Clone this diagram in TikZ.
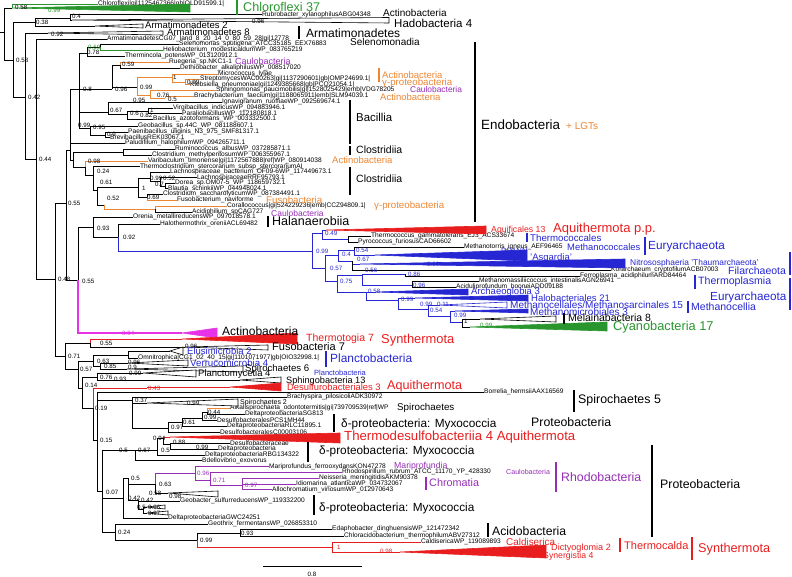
\documentclass[tikz,border=0pt]{standalone}
\usepackage{fontspec}
\setmainfont{Liberation Sans}
\definecolor{cRed}{RGB}{232,30,30}
\definecolor{cBlue}{RGB}{38,38,210}
\definecolor{cGreen}{RGB}{40,150,45}
\definecolor{cOrange}{RGB}{236,134,50}
\definecolor{cPurple}{RGB}{150,45,180}
\definecolor{cMag}{RGB}{232,50,232}
\tikzset{
  br/.style={line width=0.8pt},
  lf/.style={font=\fontsize{6.6}{7}\selectfont,anchor=west,inner sep=0pt},
  bs/.style={font=\fontsize{6.2}{7}\selectfont,anchor=west,inner sep=0pt},
  grp/.style={font=\fontsize{#1}{#1}\selectfont,anchor=west,inner sep=0pt},
  bar/.style={line width=1.4pt},
  tri/.style={line width=0.6pt}
}
\newcommand\clade[5]{\filldraw[tri,#5] (#1) -- (#2,#3) -- (#2,#4) -- cycle;}

\begin{document}
\begin{tikzpicture}[x=1pt,y=-1pt]
\useasboundingbox (0,0) rectangle (792,577);

% leaves
\foreach \n/\x/\y/\t in {chlx/98/4/Chloroflexi|gi|1125467366|gb|OLD91599.1|,
  rub/262/14.5/Rubrobacter_xylanophilusABG04348,
  cg07/107/39/ArmatimonadetesCG07_land_8_20_14_0_80_59_28|gi|12778,
  sel/179/44/Selenomonas_sputigena_ATCC35185_EEX76883,
  hel/163/50/Heliobacterium_modesticaldumWP_083765219,
  thm/125/56/Thermincola_potensWP_013120912.1,
  rue/169/62/Ruegeria_sp.NKC1-1,
  det/180/68/Dethiobacter_alkaliphilusWP_008517020,
  mic/218/74/Micrococcus_lylae,
  str/200/79/StreptomycesWAC00263|gi|1137290601|gb|OMP24699.1|,
  kle/190/84.5/Klebsiella_pneumoniae|gi|1249385668|gb|PCQ21054.1|,
  sph/216/90/Sphingomonas_paucimobilis|gi|1528025429|emb|VDG78205,
  bra/194/96/Brachybacterium_faecium|gi|1188065911|emb|SLM94039.1,
  ign/222/102/Ignavigranum_ruoffiaeWP_092569674.1,
  vir/173/108/Virgibacillus_indicusWP_094883946.1,
  par/182/113.5/ParaliobacillusWP_112180818.1,
  bac/153/119/Bacillus_azotoformans_WP_003332500.1,
  geo/138/126/Geobacillus_sp.44C_WP_081188607.1,
  pae/128/132/Paenibacillus_uliginis_N3_975_SMF81317.1,
  bre/110/137.5/BrevibacillusREK03067.1,
  pal/125/143/Paludifilum_halophilumWP_094265711.1,
  rum/175/149/Ruminococcus_albusWP_037285871.1,
  clm/152/155/Clostridium_methylpentosumWP_006355967.1,
  var/148/161/Varibaculum_timonense|gi|1172567888|ref|WP_080914038,
  thc/140/166.5/Thermoclostridium_stercorarium_subsp_stercorariumAI,
  lab/170/172/Lachnospiraceae_bacterium_OF09-6WP_117449673.1,
  lar/197/177.5/LachnospiraceaeRRF95793.1,
  dor/175/183/Dorea_sp.OM07-5_WP_118659732.1,
  bla/168/188.5/Blautia_schinkiiWP_044948024.1,
  cls/163/194/Clostridium_saccharolyticumWP_087384491.1,
  fus/177/200/Fusobacterium_naviforme,
  cor/227/206/Corallococcus|gi|524229236|emb|CCZ94809.1|,
  aci/192/212/Acidiphilium_spCAG727,
  ore/133/217/Orenia_metallireducensWP_097018578.1,
  hal/160/224/Halothermothrix_oreniiACL69482,
  thg/371/236/Thermococcus_gammatolerans_EJ3_ACS33674,
  pyr/358/242/Pyrococcus_furiosusCAD66602,
  mth/464/247/Methanotorris_igneus_AEF96465,
  kor/611/270/Korarchaeum_cryptofilumACB07003,
  fer/580/276/Ferroplasma_acidiphilumARD84464,
  mms/479/281/Methanomassiliicoccus_intestinalisAGN26941,
  acd/456/287/Aciduliprofundum_booneiADD09188,
  omn/138/358/Omnitrophica|CG1_02_40_15|gi|1101071977|gb|OIO32998.1|,
  bor/484/392/Borrelia_hermsiiAAX16569,
  bsp/287/397/Brachyspira_pilosicoliADK30972,
  alk/230/408/Alkalispirochaeta_odontotermitis|gi|739709539|ref|WP,
  sg8/245/414/DeltaproteobacteriaSG813,
  pcs/217/420/DesulfobacteralesPCS1MH44,
  rlc/227/426/DeltaproteobacteriaRLC11895.1,
  c03/220/432/DesulfobacteralesC00003106,
  dsb/230/443/Desulfobacteraceae,
  dlt/218/449/Deltaproteobacteria,
  rbg/205/455/DeltaproteobacteriaRBG134322,
  bde/202/460.5/Bdellovibrio_exovorus,
  mar/269/466.5/Mariprofundus_ferrooxydansKON47278,
  rho/342/472/Rhodospirillum_rubrum_ATCC_11170_YP_428330,
  nei/319/478/Neisseria_meningitidisAKM90378,
  idi/296/484/Idiomarina_atlanticaWP_034732067,
  all/272/489.5/Allochromatium_vinosumWP_012970643,
  gsu/180/501/Geobacter_sulfurreducensWP_119332200,
  gwc/168/518/DeltaproteobacteriaGWC24251,
  gfe/208/524/Geothrix_fermentansWP_026853310,
  eda/332/529/Edaphobacter_dinghuensisWP_121472342,
  chc/344/536/Chloracidobacterium_thermophilumABV27312,
  cal/421/542/CaldisericaWP_119089893}
  \node[lf] (\n) at (\x,\y) {\detokenize\expandafter{\t}};

% inner nodes
\coordinate (R0) at (0,32); \coordinate (R) at (4,32);
\coordinate (chl) at (12,8); \coordinate (n058) at (13,60);
\coordinate (n038) at (35,22); \coordinate (n04) at (70,18);
\coordinate (had) at (72,20); \coordinate (a2) at (95,26);
\coordinate (n042) at (25,97); \coordinate (a8) at (48,33);
\coordinate (n044) at (36,159); \coordinate (n048) at (55,279);
\coordinate (n055b) at (66,203); \coordinate (n055m) at (78,280);
\coordinate (magL) at (182,333); \coordinate (n071) at (65,356);
\coordinate (nEn) at (70,150); \coordinate (n08) at (79,89);
\coordinate (n078) at (87,53); \coordinate (n069) at (100,47);
\coordinate (n096) at (112,89); \coordinate (n059) at (120,65);
\coordinate (n099o) at (137,87); \coordinate (n1o) at (172,77);
\coordinate (n099s) at (185,82); \coordinate (n076) at (150,95);
\coordinate (n05) at (165,98); \coordinate (n067) at (108,112);
\coordinate (n06) at (127,114); \coordinate (n1b) at (148,111);
\coordinate (n095b) at (90,128); \coordinate (n09) at (105,135);
\coordinate (nC0) at (73,160); \coordinate (n1r) at (123,152);
\coordinate (n098) at (85,167); \coordinate (n024) at (93,175);
\coordinate (n061) at (97,190); \coordinate (n1c) at (138,187);
\coordinate (nL) at (150,178); \coordinate (nL2) at (160,181);
\coordinate (nL3) at (165,186); \coordinate (n069c) at (147,197);
\coordinate (n052) at (104,205); \coordinate (n1o2) at (155,209);
\coordinate (n093) at (93,227); \coordinate (n092b) at (118,237);
\coordinate (nA0) at (312,251); \coordinate (n049) at (322,233);
\coordinate (aqA) at (326,230); \coordinate (n099t) at (348,239);
\coordinate (n057) at (325,268); \coordinate (n04a) at (338,255);
\coordinate (n054) at (354,250); \coordinate (dpA) at (375,255);
\coordinate (n067a) at (352,261); \coordinate (ntA) at (360,264);
\coordinate (n075) at (337,281); \coordinate (n056) at (362,275);
\coordinate (n086) at (405,274); \coordinate (n096a) at (412,285);
\coordinate (n058a) at (366,292); \coordinate (arA) at (376,292);
\coordinate (n099h) at (398,300); \coordinate (haA) at (415,298);
\coordinate (n054b) at (428,309); \coordinate (mcA) at (440,305);
\coordinate (n099c) at (450,316); \coordinate (mmA) at (455,311);
\coordinate (n1m) at (462,322); \coordinate (meA) at (480,319);
\coordinate (cyA) at (470,327);
\coordinate (n055r) at (90,343); \coordinate (ttA) at (182,339);
\coordinate (fsA) at (185,347); \coordinate (n057b) at (78,369);
\coordinate (n063) at (93,361); \coordinate (nElu) at (128,355);
\coordinate (elA) at (170,351); \coordinate (n085) at (100,366);
\coordinate (veA) at (128,363); \coordinate (spA) at (127,369);
\coordinate (n014) at (82,388); \coordinate (n076b) at (97,377);
\coordinate (plA) at (143,373); \coordinate (sbA) at (240,380);
\coordinate (n019) at (93,408); \coordinate (n043) at (147,388);
\coordinate (dsA) at (230,387); \coordinate (n015) at (97,440);
\coordinate (n037) at (132,400); \coordinate (sp2A) at (147,403);
\coordinate (n097) at (168,428); \coordinate (n061d) at (182,422);
\coordinate (n099d) at (202,418); \coordinate (n044o) at (207,412);
\coordinate (n007) at (102,491); \coordinate (nDel) at (115,450);
\coordinate (n067b) at (135,450); \coordinate (n05d) at (157,450);
\coordinate (n094) at (163,438); \coordinate (tdA) at (170,437);
\coordinate (n088) at (170,444); \coordinate (n099e) at (195,449);
\coordinate (nP) at (123,498); \coordinate (n05p) at (128,478);
\coordinate (n063p) at (155,484); \coordinate (n096p) at (195,473);
\coordinate (n071p) at (210,480); \coordinate (n097p) at (242,485);
\coordinate (n058b) at (160,493); \coordinate (gbA) at (168,493);
\coordinate (n042b) at (138,500); \coordinate (n05q) at (143,509);
\coordinate (q1) at (147,507); \coordinate (q2) at (147,513);
\coordinate (n024b) at (115,532); \coordinate (n099r) at (197,540);
\coordinate (n093a) at (240,533); \coordinate (n1red) at (332,547);
\coordinate (n098r) at (378,552); \coordinate (dgA) at (400,552);

% backbone
\draw[br] (R0) -- (R) (R) |- (chl) (R) |- (n058);
\draw[br] (n058) |- (n038) (n058) |- (n042) (n038) |- (n04) (n038) |- (a2);
\draw[br] (n04) |- (rub.west) (n04) |- (had) (n042) |- (a8) (n042) |- (n044);
\draw[br] (n044) |- (cg07.west) (n044) |- (n048) (n048) |- (n055b) (n048) |- (n071);
\draw[br] (n055b) |- (nEn) (n055b) |- (n055m) (n055m) |- (n093);
\draw[br,cMag,line width=1.2pt] (n055m) |- (magL);
\draw[br,cGreen] (chl) |- (chlx.west);
\clade{chl}{190}{4}{12}{cGreen}
\clade{had}{389}{17.5}{23}{draw=black,fill=white}
\clade{a2}{143}{24}{28}{draw=black,fill=white}
\clade{a8}{163}{31}{35}{draw=black,fill=white}
\clade{magL}{217}{328}{338}{cMag}

% endobacteria
\draw[br] (nEn) |- (n08) (nEn) |- (pal.west) (nEn) |- (nC0);
\draw[br] (n08) |- (n078) (n08) |- (n096) (n08) |- (n067) (n08) |- (n095b);
\draw[br] (n078) |- (n069) (n078) |- (thm.west) (n069) |- (sel.west);
\draw[br,cGreen] (n069) |- (hel.west);
\draw[br] (n096) |- (n059) (n096) |- (n099o) (n059) |- (det.west);
\draw[br,cOrange] (n059) |- (rue.west);
\draw[br,cOrange] (n099o) |- (n1o) (n099o) |- (n076) (n1o) |- (mic.west) (n1o) |- (n099s)
  (n099s) |- (str.west) (n099s) |- (kle.west) (n076) |- (sph.west) (n076) |- (n05) (n05) |- (bra.west);
\draw[br] (n067) |- (ign.west) (n067) |- (n06) (n06) |- (n1b) (n06) |- (bac.west)
  (n1b) |- (vir.west) (n1b) |- (par.west);
\draw[br] (n095b) |- (geo.west) (n095b) |- (n09) (n09) |- (pae.west) (n09) |- (bre.west);
\draw[br] (nC0) |- (n1r) (nC0) |- (n098) (n1r) |- (rum.west) (n1r) |- (clm.west);
\draw[br,cOrange] (n098) |- (var.west);
\draw[br] (n098) |- (n024) (n024) |- (thc.west) (n024) |- (n061) (n061) |- (n1c) (n061) |- (n052);
\draw[br] (n1c) |- (nL) (n1c) |- (n069c) (nL) |- (lab.west) (nL) |- (nL2) (nL2) |- (lar.west)
  (nL2) |- (nL3) (nL3) |- (dor.west) (nL3) |- (bla.west) (n069c) |- (cls.west);
\draw[br,cOrange] (n069c) |- (fus.west) (n052) |- (n1o2) (n1o2) |- (cor.west);
\draw[br] (n1o2) |- (aci.west);
\draw[br] (n093) |- (ore.west) (n093) |- (n092b) (n092b) |- (hal.west);
\draw[br,cBlue] (n092b) |- (nA0);

% archaea and cyanobacteria
\draw[br,cBlue] (nA0) |- (n049) (nA0) |- (n057) (n049) |- (aqA) (n049) |- (n099t)
  (n057) |- (n04a) (n057) |- (n075) (n04a) |- (n054) (n04a) |- (n067a) (n054) |- (dpA)
  (n067a) |- (ntA) (n075) |- (n056) (n075) |- (n058a) (n056) |- (n086) (n056) |- (n096a)
  (n058a) |- (arA) (n058a) |- (n099h) (n099h) |- (haA) (n099h) |- (n054b)
  (n054b) |- (mcA) (n054b) |- (n099c) (n099c) |- (mmA) (n099c) |- (n1m);
\draw[br] (n099t) |- (thg.west) (n099t) |- (pyr.west) (n054) |- (mth.west) (n067a) |- (kor.west)
  (n086) |- (fer.west) (n096a) |- (mms.west) (n096a) |- (acd.west);
\draw[br] (n1m) |- (meA) (n1m) |- (cyA);
\clade{aqA}{486}{226}{234}{cRed}
\clade{dpA}{527}{250}{261}{cBlue}
\clade{ntA}{625}{259}{268}{cBlue}
\clade{arA}{468}{289}{295}{cBlue}
\clade{haA}{528}{295}{301}{cBlue}
\clade{mcA}{507}{302}{308}{draw=cBlue,fill=white}
\clade{mmA}{528}{309}{313}{cBlue}
\clade{meA}{556}{316}{322}{draw=black,fill=white}
\clade{cyA}{607}{322}{331}{cGreen}

% lower half
\draw[br] (n071) |- (n055r) (n071) |- (n057b) (n055r) |- (fsA);
\draw[br,cRed] (n055r) |- (ttA);
\clade{fsA}{268}{345}{350}{draw=black,fill=white}
\clade{ttA}{297}{333}{344}{cRed}
\draw[br] (n057b) |- (n063) (n057b) |- (n014) (n063) |- (nElu) (n063) |- (n085)
  (nElu) |- (elA) (nElu) |- (omn.west) (n085) |- (veA) (n085) |- (spA)
  (n014) |- (n076b) (n014) |- (n019) (n076b) |- (plA) (n076b) |- (sbA) (n019) |- (n015);
\draw[br,cRed] (n019) |- (n043) (n043) |- (dsA);
\clade{elA}{183}{347}{355}{draw=black,fill=white}
\clade{veA}{188}{360}{366}{draw=black,fill=white}
\clade{spA}{243}{366}{372}{draw=black,fill=white}
\clade{plA}{196}{370}{377}{draw=black,fill=white}
\clade{sbA}{281}{377}{383}{draw=black,fill=white}
\clade{dsA}{281}{383}{391}{cRed}
\draw[br] (n015) |- (bor.west) (n015) |- (n037) (n015) |- (n007);
\draw[br] (n037) |- (bsp.west) (n037) |- (sp2A) (n037) |- (n097) (n097) |- (n061d) (n097) |- (c03.west)
  (n061d) |- (n099d) (n061d) |- (rlc.west) (n099d) |- (n044o) (n099d) |- (pcs.west) (n044o) |- (sg8.west);
\draw[br,cOrange] (n044o) |- (alk.west);
\clade{sp2A}{238}{399}{406}{draw=black,fill=white}
\draw[br] (n007) |- (nDel) (n007) |- (nP) (n007) |- (n024b);
\draw[br] (nDel) |- (n067b) (n067b) |- (n05d) (n067b) |- (bde.west) (n05d) |- (n094) (n05d) |- (rbg.west)
  (n094) |- (n088) (n088) |- (dsb.west) (n088) |- (n099e) (n099e) |- (dlt.west);
\draw[br,cRed] (n094) |- (tdA);
\clade{tdA}{340}{433}{443}{cRed}
\draw[br] (nP) |- (n05p) (nP) |- (gwc.west) (n05p) |- (n063p) (n05p) |- (n042b) (n063p) |- (n058b)
  (n058b) |- (gbA) (n042b) |- (gsu.west) (n042b) |- (n05q) (n05q) |- (q1) (n05q) |- (q2);
\draw[br,cPurple] (n063p) |- (n096p) (n096p) |- (mar.west) (n096p) |- (n071p) (n071p) |- (rho.west)
  (n071p) |- (n097p) (n097p) |- (nei.west) (n097p) |- (idi.west) (n097p) |- (all.west);
\clade{gbA}{218}{491}{497}{draw=black,fill=white}
\clade{q1}{165}{505}{509}{draw=black,fill=white}
\clade{q2}{168}{511}{515}{draw=black,fill=white}
\draw[br] (n024b) |- (gfe.west) (n024b) |- (n099r) (n099r) |- (n093a) (n093a) |- (eda.west) (n093a) |- (chc.west);
\draw[br,cRed] (n099r) |- (n1red) (n1red) |- (cal.west) (n1red) |- (n098r) (n098r) |- (dgA);
\clade{dgA}{546}{545}{558}{cRed}

% support values
\foreach \x/\y/\t [count=\i] in {15/7/0.58, 36/22/0.38, 72/16/0.4, 252/21/0.96, 51/34/0.92,
  16/60/0.58, 28/97/0.42, 39/159/0.44, 87/52/0.78, 122/64/0.59, 83/89/0.8, 115/89/0.96,
  140/87/0.99, 173/77/1, 187/82/0.99, 157/95/0.76, 168/99/0.5, 133/100/0.95, 110/110/0.67,
  150/110/1, 130/113/0.6, 140/115/0.82, 78/125/0.99, 93/127/0.95, 107/134/0.9,
  88/161/0.98, 97/171/0.24, 100/182/0.61, 107/198/0.52, 142/188/1, 150/178/0.99,
  163/178/0.52, 155/184/0.7, 147/197/0.69, 68/203/0.55, 97/228/0.93, 123/237/0.92,
  58/279/0.48, 82/281/0.55, 464/321/1, 100/343/0.55, 185/346/0.96, 68/356/0.71,
  97/361/0.63, 128/362/0.96, 104/366/0.85, 128/367/0.9, 80/369/0.57, 129/373/0.99,
  100/377/0.76, 114/379/0.93, 85/385/0.14, 135/400/0.37, 187/403/0.99, 95/408/0.19,
  208/412/0.44, 204/417/0.99, 183/422/0.61, 171/427/0.97, 153/438/0.94, 100/440/0.15,
  173/442/0.88, 196/447/0.99, 119/450/0.5, 138/450/0.67, 161/450/0.5, 131/478/0.5,
  159/484/0.63, 106/492/0.07, 149/493/0.58, 169/496/0.98, 128/498/0.42, 141/500/0.42,
  137/507/0.5, 148/507/0.96, 148/513/0.97, 118/532/0.24, 241/533/0.93, 200/540/0.99}
  \node[bs] (s\i) at (\x,\y) {\t};
\foreach \x/\y/\t [count=\i] in {325/233/0.49, 316/251/0.99, 342/254/0.4, 356/250/0.54,
  357/259/0.67, 427/264/0.99, 330/268/0.57, 365/270/0.56, 408/274/0.86, 340/281/0.75,
  413/285/0.96, 368/291/0.58, 401/299/0.99, 420/304/0.99, 437/304/0.11, 430/310/0.54, 454/315/0.99}
  \node[bs,cBlue] (sb\i) at (\x,\y) {\t};
\node[bs,cGreen] (sg1) at (48,10) {0.99};
\node[bs,cGreen] (sg2) at (88,47) {0.69};
\node[bs,cGreen] (sg3) at (480,325) {0.99};
\node[bs,cMag] (sm1) at (122,333) {0.94};
\node[bs,cRed] (sr1) at (148,388) {0.43};
\node[bs,cRed] (sr2) at (337,547) {1};
\node[bs,cRed] (sr3) at (380,551) {0.98};
\node[bs,cPurple] (sp1) at (197,473) {0.96};
\node[bs,cPurple] (sp2) at (213,480) {0.71};
\node[bs,cPurple] (sp3) at (245,485) {0.97};

% clade labels, top
\draw[bar,cGreen] (237,0) -- (237,15);
\node[grp=12.6,cGreen] (gChl) at (243,6.5) {Chloroflexi 37};
\node[grp=10] (gAct1) at (383,13) {Actinobacteria};
\node[grp=11.5] (gHad) at (394,23) {Hadobacteria 4};
\node[grp=9.5] (gAr2) at (145,25) {Armatimonadetes 2};
\node[grp=9.5] (gAr8) at (167,32) {Armatimonadetes 8};
\draw[bar] (299,26) -- (299,39);
\node[grp=12] (gArm) at (306,33) {Armatimonadetes};
\node[grp=10] (gSel) at (350,42) {Selenomonadia};
\node[grp=9,cPurple] (gCau1) at (235,61) {Caulobacteria};
\draw[bar,cOrange] (379,68) -- (379,82);
\node[grp=9.5,cOrange] (gAct2) at (382,75) {Actinobacteria};
\node[grp=9.7,cOrange] (gGam1) at (382,83) {γ-proteobacteria};
\node[grp=8.4,cPurple] (gCau2) at (410,90) {Caulobacteria};
\node[grp=9.5,cOrange] (gAct3) at (380,97) {Actinobacteria};
\draw[bar] (350,100) -- (350,144);
\node[grp=11.4] (gBac) at (356,117) {Bacillia};
\draw[bar] (350,146) -- (350,155);
\node[grp=10.5] (gClo1) at (356,150) {Clostridiia};
\node[grp=9.5,cOrange] (gAct4) at (332,160) {Actinobacteria};
\draw[bar] (350,167) -- (350,195);
\node[grp=10.5] (gClo2) at (356,179) {Clostridiia};
\node[grp=9.7,cOrange] (gFus) at (266,200) {Fusobacteria};
\node[grp=9.7,cOrange] (gGam2) at (374,206) {γ-proteobacteria};
\node[grp=8.5,cPurple] (gCau3) at (271,213) {Caulobacteria};
\draw[bar] (268,216) -- (268,227);
\node[grp=12.5] (gHal) at (272,221) {Halanaerobiia};
\draw[bar] (475,42) -- (475,222);
\node[grp=13.4] (gEnd) at (481,125) {Endobacteria};
\node[grp=10,cOrange] (gLgt) at (566,126) {+ LGTs};

% clade labels, archaea
\node[grp=8.7,cRed] (gAqf) at (491,230) {Aquificales 13};
\node[grp=13,cRed] (gAqp) at (553,229) {Aquithermota p.p.};
\draw[bar,cBlue] (527,233) -- (527,242);
\node[grp=9.7,cBlue] (gTcc) at (530,238) {Thermococcales};
\node[grp=9.4,cBlue] (gMcc) at (567,247) {Methanococcales};
\draw[bar,cBlue] (645,237) -- (645,255);
\node[grp=11.8,cBlue] (gEur1) at (648,246) {Euryarchaeota};
\node[grp=7.7,cBlue] (gDpa) at (501,251) {DPANN};
\node[grp=9.5,cBlue] (gAsg) at (530,258) {'Asgardia'};
\node[grp=8.4,cBlue] (gNit) at (630,263) {Nitrososphaeria 'Thaumarchaeota'};
\draw[bar,cBlue] (790,252) -- (790,275);
\node[grp=10.5,cBlue] (gFil) at (728,271) {Filarchaeota};
\draw[bar,cBlue] (695,275) -- (695,289);
\node[grp=10.6,cBlue] (gTpl) at (698,282) {Thermoplasmia};
\draw[bar,cBlue] (790,278) -- (790,310);
\node[grp=9.5,cBlue] (gArc) at (471,292) {Archaeoglobia 3};
\node[grp=9.5,cBlue] (gHlb) at (531,298) {Halobacteriales 21};
\node[grp=11.7,cBlue] (gEur2) at (710,297) {Euryarchaeota};
\node[grp=10,cBlue] (gMsc) at (510,305) {Methanocellales/Methanosarcinales 15};
\draw[bar,cBlue] (688,301) -- (688,313);
\node[grp=10.5,cBlue] (gMcl) at (691,307) {Methanocellia};
\node[grp=10,cBlue] (gMmb) at (530,312) {Methanomicrobiales 3};
\draw[bar] (564,313) -- (564,324);
\node[grp=10.5] (gMel) at (568,318) {Melainabacteria 8};
\node[grp=12.8,cGreen] (gCya) at (613,327) {Cyanobacteria 17};

% clade labels, lower half
\node[grp=12] (gAct5) at (222,331) {Actinobacteria};
\node[grp=10.5,cRed] (gTtg) at (306,339) {Thermotogia 7};
\node[grp=12.9,cRed] (gSyn1) at (381,340) {Synthermota};
\node[grp=11] (gFus7) at (272,347) {Fusobacteria 7};
\node[grp=9.5,cBlue] (gElu) at (187,351) {Elusimicrobia 2};
\draw[bar,cBlue] (326,351) -- (326,367);
\node[grp=11.9,cBlue] (gPla1) at (330,358) {Planctobacteria};
\node[grp=9.7,cBlue] (gVer) at (190,363) {Verrucomicrobia 4};
\node[grp=9.6] (gSp6) at (245,369) {Spirochaetes 6};
\node[grp=9.5] (gPlm) at (198,374) {Planctomycetia 4};
\node[grp=7.5,cBlue] (gPla2) at (314,373) {Planctobacteria};
\node[grp=9.2] (gSph) at (286,381) {Sphingobacteria 13};
\node[grp=9.4,cRed] (gDsf) at (287,387.5) {Desulfurobacteriales 3};
\node[grp=12.6,cRed] (gAqt1) at (387,386) {Aquithermota};
\draw[bar] (574,390) -- (574,412);
\node[grp=12.4] (gSp5) at (578,400) {Spirochaetes 5};
\node[grp=7] (gSp2) at (240,403) {Spirochaetes 2};
\node[grp=9.8] (gSpi) at (397,408) {Spirochaetes};
\draw[bar] (334,414) -- (334,432);
\node[grp=11.8] (gMyx1) at (341,424) {δ-proteobacteria: Myxococcia};
\node[grp=12.3] (gPro1) at (531,422) {Proteobacteria};
\node[grp=13.2,cRed] (gTds) at (344,437) {Thermodesulfobacteriia 4 Aquithermota};
\draw[bar] (308,442) -- (308,462);
\node[grp=11.8] (gMyx2) at (319,451) {δ-proteobacteria: Myxococcia};
\node[grp=8.7,cPurple] (gMar) at (394,466) {Mariprofundia};
\node[grp=7.1,cPurple] (gCau4) at (506,472) {Caulobacteria};
\draw[bar,cPurple] (556,462) -- (556,492);
\node[grp=12.3,cPurple] (gRho) at (561,477) {Rhodobacteria};
\draw[bar,cPurple] (426,477) -- (426,490);
\node[grp=10.8,cPurple] (gChr) at (429,483) {Chromatia};
\draw[bar] (652,445) -- (652,537);
\node[grp=12.3] (gPro2) at (660,484) {Proteobacteria};
\draw[bar] (314,495) -- (314,515);
\node[grp=11.8] (gMyx3) at (319,508) {δ-proteobacteria: Myxococcia};
\draw[bar] (488,523) -- (488,537);
\node[grp=12.2] (gAcd) at (492,531) {Acidobacteria};
\node[grp=9.9,cRed] (gCal) at (506,542) {Caldiserica};
\node[grp=9.1,cRed] (gDic) at (551,548) {Dictyoglomia 2};
\node[grp=8.7,cRed] (gSng) at (543,556) {Synergistia 4};
\draw[bar,cRed] (620,538) -- (620,552);
\node[grp=11,cRed] (gTca) at (624,546) {Thermocalda};
\draw[bar,cRed] (692,537) -- (692,560);
\node[grp=12.7,cRed] (gSyn2) at (698,549) {Synthermota};

% scale
\draw[br] (263,566) -- (362,566);
\node[bs,anchor=center] (sc) at (312,574) {0.8};
\end{tikzpicture}
\end{document}
